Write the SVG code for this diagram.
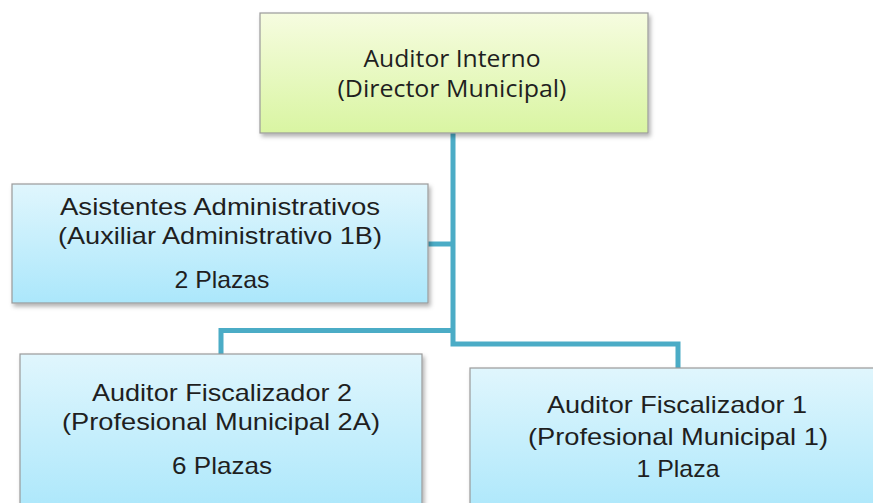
<svg xmlns="http://www.w3.org/2000/svg" width="873" height="503" viewBox="0 0 873 503">
<style>
.box{stroke:#9a9a9a;stroke-width:1.2}
.t{font-family:"Liberation Sans",Arial,sans-serif;font-size:24px;fill:#1f1f1f;text-anchor:middle}
.h{font-family:"Open Sans","Liberation Sans",Arial,sans-serif;font-size:23px;fill:#1f1f1f;text-anchor:middle}
.c{fill:none;stroke:#4bacc6;stroke-width:5}
</style>
<defs>
<linearGradient id="g" x1="0" y1="0" x2="0" y2="1"><stop offset="0" stop-color="#f6fce0"/><stop offset="1" stop-color="#d9f5a2"/></linearGradient>
<linearGradient id="b" x1="0" y1="0" x2="0" y2="1"><stop offset="0" stop-color="#e0f6fd"/><stop offset="1" stop-color="#abe7fb"/></linearGradient>
<filter id="s" x="-5%" y="-5%" width="112%" height="115%"><feDropShadow dx="2" dy="3" stdDeviation="2" flood-color="#000" flood-opacity="0.3"/></filter>
</defs>
<g id="connectors">
<path class="c" d="M453 133 V344 H678 V368"/>
<path class="c" d="M453 330.5 H221 V354"/>
<path class="c" d="M428 244 H453"/>
</g>
<g id="auditor-interno">
<rect class="box" x="260" y="13" width="388" height="120" fill="url(#g)" filter="url(#s)"/>
<text class="h" x="452" y="67" textLength="177" lengthAdjust="spacingAndGlyphs">Auditor Interno</text>
<text class="h" x="452" y="97" textLength="229" lengthAdjust="spacingAndGlyphs">(Director Municipal)</text>
</g>
<g id="asistentes">
<rect class="box" x="12" y="184" width="416" height="119" fill="url(#b)" filter="url(#s)"/>
<text class="t" x="220" y="215" textLength="320" lengthAdjust="spacingAndGlyphs">Asistentes Administrativos</text>
<text class="t" x="220" y="244" textLength="324" lengthAdjust="spacingAndGlyphs">(Auxiliar Administrativo 1B)</text>
<text class="t" x="222" y="288" textLength="95" lengthAdjust="spacingAndGlyphs">2 Plazas</text>
</g>
<g id="fiscalizador2">
<rect class="box" x="20" y="354" width="402" height="160" fill="url(#b)" filter="url(#s)"/>
<text class="t" x="222" y="401" textLength="260" lengthAdjust="spacingAndGlyphs">Auditor Fiscalizador 2</text>
<text class="t" x="221" y="430" textLength="318" lengthAdjust="spacingAndGlyphs">(Profesional Municipal 2A)</text>
<text class="t" x="222" y="474" textLength="100" lengthAdjust="spacingAndGlyphs">6 Plazas</text>
</g>
<g id="fiscalizador1">
<rect class="box" x="470" y="368" width="420" height="150" fill="url(#b)" filter="url(#s)"/>
<text class="t" x="677" y="413" textLength="260" lengthAdjust="spacingAndGlyphs">Auditor Fiscalizador 1</text>
<text class="t" x="678" y="445" textLength="300" lengthAdjust="spacingAndGlyphs">(Profesional Municipal 1)</text>
<text class="t" x="678" y="477" textLength="83" lengthAdjust="spacingAndGlyphs">1 Plaza</text>
</g>
</svg>
